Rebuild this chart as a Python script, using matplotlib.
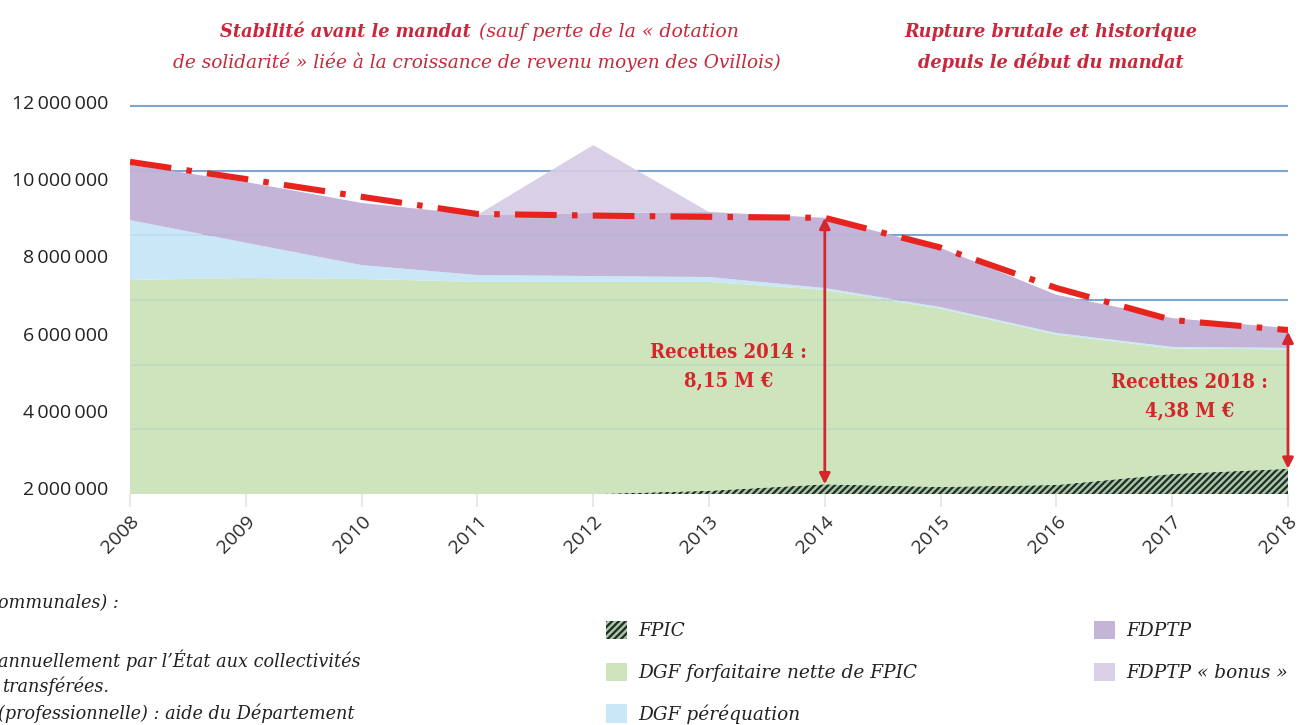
import matplotlib
matplotlib.use("Agg")
import matplotlib.pyplot as plt
from matplotlib.patches import Patch
import logging
logging.getLogger("matplotlib.font_manager").setLevel(logging.ERROR)

# ---------------- data (millions d'euros) ----------------
years = [2008, 2009, 2010, 2011, 2012, 2013, 2014, 2015, 2016, 2017, 2018]
fpic = [0, 0, 0, 0, 0, 0.10, 0.30, 0.22, 0.28, 0.62, 0.78]
dgf_forfaitaire = [6.62, 6.68, 6.65, 6.56, 6.56, 6.46, 6.01, 5.51, 4.65, 3.88, 3.69]
dgf_perequation = [1.85, 1.09, 0.43, 0.21, 0.18, 0.15, 0.06, 0.05, 0.05, 0.05, 0.05]
fdptp = [1.71, 1.88, 1.92, 1.86, 1.95, 2.01, 2.17, 1.83, 1.18, 0.89, 0.61]
fdptp_bonus = [0, 0, 0, 0, 2.10, 0, 0, 0, 0, 0, 0]
total_line = [10.27, 9.74, 9.19, 8.66, 8.61, 8.57, 8.54, 7.62, 6.37, 5.38, 5.07]

grid_values = [2, 4, 6, 8, 10, 12]
tick_values = [2, 4, 6, 8, 10, 12]
tick_labels = ["2\u2009000\u2009000", "4\u2009000\u2009000", "6\u2009000\u2009000",
               "8\u2009000\u2009000", "10\u2009000\u2009000", "12\u2009000\u2009000"]
series_labels = ["FPIC", "DGF forfaitaire nette de FPIC", "DGF péréquation",
                 "FDPTP", "FDPTP « bonus »"]

# ---------------- style ----------------
c_fpic_face = "#a8c6a2"
c_fpic_hatch = "#1f2b29"
c_green = "#cde4bc"
c_blue = "#c9e7f6"
c_purple = "#c3b4d8"
c_bonus = "#d9cfe7"
c_line = "#e6241d"
c_title = "#c8283b"
c_annot = "#d5262b"
c_grid = "#7ea5cf"

plt.rcParams["hatch.linewidth"] = 1.6
plt.rcParams["lines.scale_dashes"] = False

W, H = 1303, 725
fig = plt.figure(figsize=(W / 100, H / 100), dpi=100)
ax = fig.add_axes([130 / W, 1 - 494 / H, 1158 / W, (494 - 93) / H])

ax.set_xlim(2008, 2018)
ax.set_ylim(0, 12.4)

for g in grid_values:
    ax.axhline(g, color=c_grid, lw=1.5, zorder=0)

polys = ax.stackplot(years, fpic, dgf_forfaitaire, dgf_perequation, fdptp, fdptp_bonus,
                     colors=[c_fpic_face, c_green, c_blue, c_purple, c_bonus],
                     linewidth=0, zorder=1)
polys[0].set_hatch("/////")
polys[0].set_edgecolor(c_fpic_hatch)
polys[0].set_linewidth(0)

# faint gridlines seen through the fills
for g in grid_values:
    ax.axhline(g, color=c_grid, lw=1.5, alpha=0.12, zorder=2)

ln, = ax.plot(years, total_line, color=c_line, lw=4.4, zorder=4,
              solid_capstyle="butt", dash_capstyle="butt")
ln.set_dashes([30, 11, 4, 11])

# arrows
for yr, top in [(2014, total_line[years.index(2014)]),
                (2018, total_line[years.index(2018)] - 0.05)]:
    bot = fpic[years.index(yr)]
    ax.annotate("", xy=(yr, bot), xytext=(yr, top),
                arrowprops=dict(arrowstyle="<|-|>", color=c_annot, lw=2.0,
                                mutation_scale=16, shrinkA=0, shrinkB=0),
                annotation_clip=False, zorder=5)

annot_font = dict(family=["DejaVu Serif Condensed", "DejaVu Serif"],
                  fontstretch="condensed", weight="bold",
                  color=c_annot, fontsize=14.5, ha="center", va="center")
ax.text(2013.17, 3.96, "Recettes 2014 :\n8,15 M €", linespacing=1.55, **annot_font)
ax.text(2017.15, 3.03, "Recettes 2018 :\n4,38 M €", linespacing=1.55, **annot_font)

# axes cosmetics
for s in ax.spines.values():
    s.set_visible(False)
ax.set_yticks([])
ax.set_xticks(years)
ax.set_xticklabels([str(y) for y in years], rotation=45, ha="right",
                   rotation_mode="anchor", fontsize=14, color="#2a2a2a",
                   family=["Open Sans", "DejaVu Sans"])
ax.tick_params(axis="x", length=9, color="#e4e4e4", width=1.2, pad=4)

# y labels (placed on their own scale, as in the original graphic)
ax2 = fig.add_axes(ax.get_position(), frameon=False)
ax2.set_xlim(0, 1)
ax2.set_ylim(2 - 6 / 38.6, 2 + 395 / 38.6)
ax2.set_xticks([])
ax2.set_yticks(tick_values)
ax2.set_yticklabels(tick_labels, fontsize=14, color="#222222",
                    family=["Open Sans", "DejaVu Sans"])
ax2.tick_params(axis="y", length=0, pad=15.5)
ax2.patch.set_visible(False)

# titles
tfont = dict(family="DejaVu Serif", style="italic", color=c_title)
fig.text(471 / W, 1 - 32 / H, "Stabilité avant le mandat", weight="bold",
         fontsize=12.8, ha="right", va="center", **tfont)
fig.text(479 / W, 1 - 32 / H, "(sauf perte de la « dotation", ha="left",
         fontsize=13.6, va="center", **tfont)
fig.text(477 / W, 1 - 62 / H,
         "de solidarité » liée à la croissance de revenu moyen des Ovillois)",
         fontsize=13.3, ha="center", va="center", **tfont)
fig.text(1051 / W, 1 - 32 / H, "Rupture brutale et historique", weight="bold",
         fontsize=12.7, ha="center", va="center", **tfont)
fig.text(1051 / W, 1 - 62 / H, "depuis le début du mandat", weight="bold",
         fontsize=12.8, ha="center", va="center", **tfont)

# left cut-off notes
nfont = dict(family="DejaVu Serif", style="italic", color="#222222", fontsize=12.7,
             ha="left", va="center")
fig.text(-2 / W, 1 - 603 / H, "ommunales) :", **nfont)
fig.text(-2 / W, 1 - 660 / H, "annuellement par l’État aux collectivités", **nfont)
fig.text(2 / W, 1 - 686 / H, "transférées.", **nfont)
fig.text(-2 / W, 1 - 713 / H, "(professionnelle) : aide du Département", **nfont)

# legend
handles = [Patch(facecolor=c_fpic_face, edgecolor=c_fpic_hatch, hatch="/////", lw=0),
           Patch(facecolor=c_green, lw=0),
           Patch(facecolor=c_blue, lw=0),
           Patch(facecolor=c_purple, lw=0),
           Patch(facecolor=c_bonus, lw=0)]
lprops = dict(family="DejaVu Serif", style="italic", size=13.3)
lkw = dict(loc="upper left", frameon=False, prop=lprops, handlelength=1.15,
           handleheight=1.15, labelspacing=1.2, handletextpad=0.62,
           labelcolor="#222222", borderaxespad=0, borderpad=0)
leg1 = fig.legend(handles[:3], series_labels[:3],
                  bbox_to_anchor=(606 / W, 1 - 621 / H), **lkw)
leg2 = fig.legend(handles[3:], series_labels[3:],
                  bbox_to_anchor=(1094 / W, 1 - 621 / H), **lkw)

fig.savefig("out.png", dpi=100)
